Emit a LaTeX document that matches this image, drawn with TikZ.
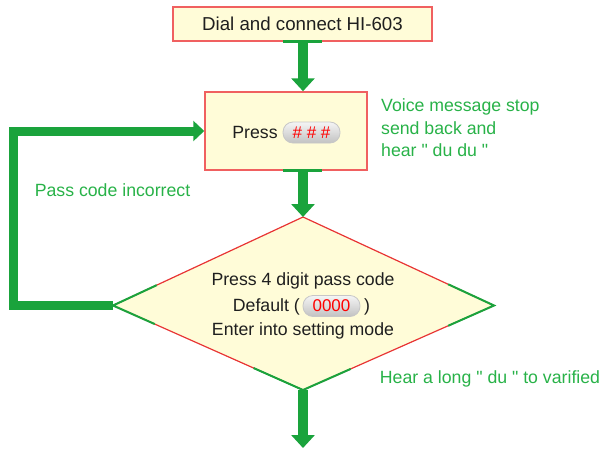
\documentclass[tikz,border=0pt]{standalone}
\usepackage{fontspec}
\setmainfont{Liberation Sans}[Ligatures=TeXOff]
\usetikzlibrary{arrows.meta,calc}
\definecolor{boxfill}{RGB}{255,252,216}
\definecolor{boxred}{RGB}{240,96,96}
\definecolor{edgered}{RGB}{232,52,52}
\definecolor{arrgreen}{RGB}{26,163,60}
\definecolor{txtgreen}{RGB}{40,178,72}
\tikzset{
  txt/.style={font=\fontsize{17.7}{21}\selectfont, inner sep=0pt, text=black!88},
  gtxt/.style={txt, text=txtgreen},
  stepbox/.style={draw=boxred, line width=1.5pt, fill=boxfill, inner sep=0pt, txt},
  arr/.style={draw=arrgreen, line width=10pt, -{Triangle[width=23pt,length=13pt]}},
  loopline/.style={draw=arrgreen, line width=9pt, line join=miter, -{Triangle[width=20pt,length=11pt]}},
  gbar/.style={draw=arrgreen, line width=3pt},
  redge/.style={draw=edgered, line width=1.2pt, line join=miter},
  gedge/.style={draw=arrgreen, line width=2pt, line join=miter},
  pill/.style={rounded corners=10pt, minimum width=57pt, minimum height=21pt, inner sep=0pt,
    top color=black!4, bottom color=black!24, draw=black!22, line width=0.8pt,
    text=red, font=\fontsize{17}{20}\selectfont}
}
\begin{document}
\begin{tikzpicture}[x=1pt,y=-1pt]
\useasboundingbox (0,0) rectangle (602,450);
% boxes
\node[stepbox, minimum width=259pt, minimum height=34pt, font=\fontsize{18.7}{22}\selectfont] (dial) at (302.5,24) {Dial and connect HI-603};
\node[stepbox, minimum width=162pt, minimum height=78pt] (press) at (286,131) {};
\node[txt, anchor=base] (presstxt) at (255,138) {Press};
\node[pill] (hash) at (311.5,132.5) {\# \# \#};
% diamond
\coordinate (dT) at (303,217);
\coordinate (dL) at (113,305.5);
\coordinate (dR) at (494,305.5);
\coordinate (dB) at (303,390);
\fill[boxfill] (dT) -- (dR) -- (dB) -- (dL) -- cycle;
\draw[redge] (dT) -- (dR) -- (dB) -- (dL) -- cycle;
\draw[gedge] ($(dL)!0.23!(dT)$) -- (dL) -- ($(dL)!0.22!(dB)$);
\draw[gedge] ($(dR)!0.24!(dT)$) -- (dR) -- ($(dR)!0.24!(dB)$);
\draw[gedge] ($(dB)!0.26!(dL)$) -- (dB) -- ($(dB)!0.25!(dR)$);
\node[txt, anchor=base] (l1) at (303,285) {Press 4 digit pass code};
\node[txt, anchor=base east] (l2a) at (300,311.7) {Default (};
\node[pill] (zero) at (331.5,306) {0000};
\node[txt, anchor=base west] (l2b) at (364,311.7) {)};
\node[txt, anchor=base] (l3) at (303,335) {Enter into setting mode};
% arrows
\coordinate (ax) at (303,0);
\draw[arr] (dial.south -| ax) -- (press.north -| ax);
\draw[gbar] ($(dial.south -| ax)+(-20,0)$) -- ($(dial.south -| ax)+(19,0)$);
\draw[arr] (press.south -| ax) -- (dT);
\draw[gbar] ($(press.south -| ax)+(-20,0)$) -- ($(press.south -| ax)+(19,0)$);
\coordinate (endpt) at (303,448);
\draw[arr] (dB) -- (endpt);
\coordinate (lx) at (13,0);
\draw[loopline] (dL) -- (dL -| lx) -- (press.west -| lx) -- (press.west);
% labels
\node[gtxt, anchor=base west] (voice) at (381,111.7) {Voice message stop};
\node[gtxt, anchor=base west] (sendback) at (381,134) {send back and};
\node[gtxt, anchor=base west] (hear) at (381,156.7) {hear " du du "};
\node[gtxt, anchor=base] (incorrect) at (112.5,196.7) {Pass code incorrect};
\node[gtxt, anchor=base] (hearlong) at (490,383.3) {Hear a long " du " to varified};
\end{tikzpicture}
\end{document}
